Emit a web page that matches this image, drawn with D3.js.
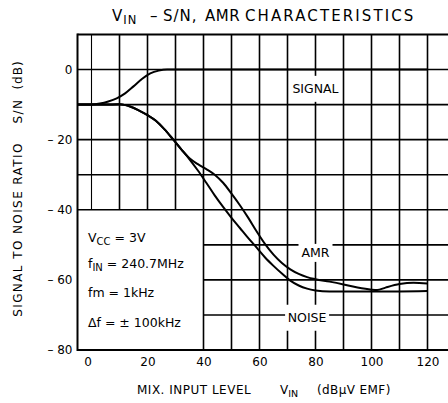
<!DOCTYPE html>
<html><head><meta charset="utf-8">
<script src="https://cdn.jsdelivr.net/npm/d3@7"></script>
<style>
html,body{margin:0;padding:0;background:#fff;}
svg{display:block;}
text{font-family:"DejaVu Sans",sans-serif;fill:#000;white-space:pre;}
</style></head>
<body>
<script>
// ---- data ----
const xTicks = [0, 20, 40, 60, 80, 100, 120];
const yTicks = [0, -20, -40, -60, -80];
const xGrid = [0, 10, 20, 30, 40, 50, 60, 70, 80, 90, 100, 110, 120];
const yGrid = [10, 0, -10, -20, -30, -40, -50, -60, -70, -80];

const signalX = [-5, 0, 3, 6, 9, 12, 15, 18, 21, 24, 27, 120];
const signalY = [-10, -10, -9.7, -9.1, -8.2, -6.8, -4.8, -2.7, -1.1, -0.3, 0, 0];

const noiseX = [-5, 0, 5, 10, 14, 17, 20, 23, 26, 29, 32, 35, 38, 41, 44, 47, 50, 53, 56, 59, 62, 65, 68, 71, 74, 77, 80, 85, 90, 100, 110, 120];
const noiseY = [-10, -10, -10, -9.9, -10.6, -11.7, -13, -14.6, -17, -19.8, -22.7, -25.6, -28.8, -32.3, -35.9, -39.2, -42.3, -45.2, -48.1, -50.8, -53.6, -56, -58.2, -60.2, -61.6, -62.5, -63, -63.3, -63.3, -63.3, -63.3, -63.2];

const amrX = [-5, 0, 5, 10, 14, 17, 20, 23, 26, 29, 32, 35, 38, 41, 44, 47, 50, 53, 56, 59, 62, 65, 68, 71, 74, 77, 80, 85, 90, 95, 100, 102, 105, 110, 115, 120];
const amrY = [-10, -10, -10, -9.9, -10.6, -11.7, -13, -14.6, -17, -19.8, -22.7, -25.3, -27, -28.4, -30, -32.3, -35.4, -38.7, -42.3, -46.2, -49.8, -52.8, -55.2, -57, -58.3, -59.2, -59.8, -60.5, -61.3, -62.2, -62.8, -62.9, -62.2, -61.2, -60.8, -61];

const conditions = ["V|CC| = 3V", "f|IN| = 240.7MHz", "fm = 1kHz", "Δf = ± 100kHz"];
const seriesLabels = ["SIGNAL", "AMR", "NOISE"];

// ---- layout ----
const W = 448, H = 403;
const svg = d3.select("body").append("svg").attr("width", W).attr("height", H);
const x = d3.scaleLinear().domain([-5, 130]).range([77.5, 455.5]);
const y = d3.scaleLinear().domain([-80, 10]).range([350, 34.5]);

const g = svg.append("g");
const gridW = 1.6;

// vertical grid
xGrid.forEach(v => {
  const top = y(10), bot = v < 40 ? y(-40) : y(-80);
  g.append("line").attr("x1", x(v)).attr("x2", x(v)).attr("y1", top).attr("y2", bot)
    .attr("stroke", "#000").attr("stroke-width", v === 0 ? 1.1 : gridW);
});
// horizontal grid
yGrid.forEach(v => {
  const left = (v < -40 && v > -80) ? x(40) : x(-5);
  g.append("line").attr("x1", left).attr("x2", W).attr("y1", y(v)).attr("y2", y(v))
    .attr("stroke", "#000").attr("stroke-width", (v === 10 || v === -80) ? 2 : gridW);
});
// left frame
g.append("line").attr("x1", x(-5)).attr("x2", x(-5)).attr("y1", y(10) - 1).attr("y2", y(-80) + 1)
  .attr("stroke", "#000").attr("stroke-width", 2);

// label backgrounds
function boxLabel(txt, cx, cy, bw, bh) {
  g.append("rect").attr("x", cx - bw / 2).attr("y", cy - bh / 2).attr("width", bw).attr("height", bh).attr("fill", "#fff");
  g.append("text").attr("x", cx).attr("y", cy + 4.5).attr("text-anchor", "middle").attr("font-size", 12.5).text(txt);
}
boxLabel(seriesLabels[0], x(80), y(-5.5), 52, 26);
boxLabel(seriesLabels[1], x(80), y(-52.3), 34, 18);
boxLabel(seriesLabels[2], x(77), y(-70.8), 44, 26);

// curves
const line = d3.line().x(d => x(d[0])).y(d => y(d[1])).curve(d3.curveMonotoneX);
[[signalX, signalY], [noiseX, noiseY], [amrX, amrY]].forEach(([xs, ys]) => {
  g.append("path").attr("d", line(xs.map((v, i) => [v, ys[i]])))
    .attr("fill", "none").attr("stroke", "#000").attr("stroke-width", 2);
});

// axes tick labels
const yAxis = d3.axisLeft(y).tickValues(yTicks).tickSize(0).tickPadding(5)
  .tickFormat(d => d === 0 ? "0" : "– " + Math.abs(d));
const ya = svg.append("g").attr("transform", `translate(${x(-5)},0)`).call(yAxis);
ya.select(".domain").remove();
ya.selectAll("text").attr("font-family", "DejaVu Sans").attr("font-size", 12);

const xAxis = d3.axisBottom(x).tickValues(xTicks).tickSize(0).tickPadding(7).tickFormat(d3.format("d"));
const xa = svg.append("g").attr("transform", `translate(0,${y(-80)})`).call(xAxis);
xa.select(".domain").remove();
xa.selectAll("text").attr("font-family", "DejaVu Sans").attr("font-size", 12)
  .attr("dx", d => d === 0 ? -4 : 0);

// conditions text
const condY = [242, 268, 297, 327];
conditions.forEach((c, i) => {
  const t = svg.append("text").attr("x", 88).attr("y", condY[i]).attr("font-size", 12.5);
  const parts = c.split("|");
  parts.forEach((p, j) => {
    const ts = t.append("tspan").text(p);
    if (j === 1) ts.attr("font-size", 10).attr("dy", 3);
    if (j === 2) ts.attr("dy", -3);
  });
});

// title
const tFont = 15, tY = 21;
const tv = svg.append("text").attr("x", 112).attr("y", tY).attr("font-size", tFont).attr("letter-spacing", 1);
tv.append("tspan").text("V");
tv.append("tspan").text("IN").attr("font-size", 11.5).attr("dy", 3);
svg.append("text").attr("x", 150).attr("y", tY).attr("font-size", tFont).text("–");
svg.append("text").attr("x", 163).attr("y", tY).attr("font-size", tFont).attr("letter-spacing", 1).text("S/N,");
svg.append("text").attr("x", 205).attr("y", tY).attr("font-size", tFont).attr("letter-spacing", 0.5).text("AMR");
svg.append("text").attr("x", 245).attr("y", tY).attr("font-size", tFont).attr("letter-spacing", 2.1).text("CHARACTERISTICS");

// x axis title
const xY = 394;
svg.append("text").attr("x", 137).attr("y", xY).attr("font-size", 12).attr("letter-spacing", 0.5).text("MIX. INPUT LEVEL");
const xv = svg.append("text").attr("x", 280).attr("y", xY).attr("font-size", 12);
xv.append("tspan").text("V");
xv.append("tspan").text("IN").attr("font-size", 9.5).attr("dy", 3);
svg.append("text").attr("x", 317).attr("y", xY).attr("font-size", 12).attr("letter-spacing", 0.4).text("(dBμV EMF)");

// y axis title
const yx = 22;
svg.append("text").attr("transform", `translate(${yx},229.5) rotate(-90)`).attr("text-anchor", "middle")
  .attr("font-size", 12).attr("letter-spacing", 1.4).text("SIGNAL TO NOISE RATIO");
svg.append("text").attr("transform", `translate(${yx},111) rotate(-90)`).attr("text-anchor", "middle")
  .attr("font-size", 12).attr("letter-spacing", 1.5).text("S/N");
svg.append("text").attr("transform", `translate(${yx},75) rotate(-90)`).attr("text-anchor", "middle")
  .attr("font-size", 12).attr("letter-spacing", 1).text("(dB)");
</script>
</body></html>
